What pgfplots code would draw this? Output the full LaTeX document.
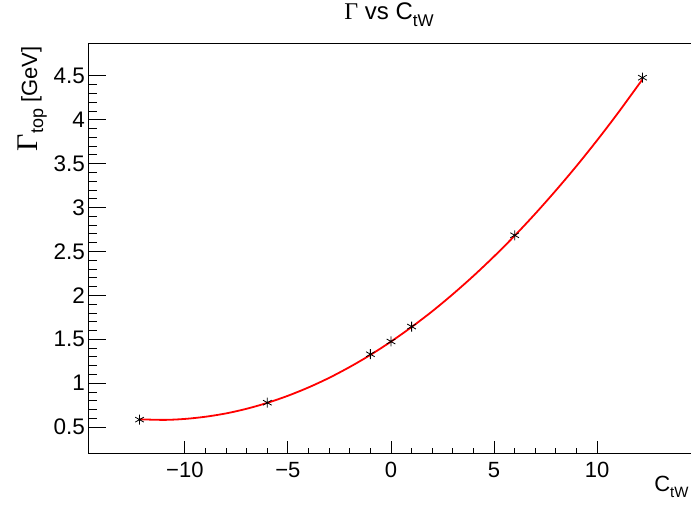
\documentclass[border=0pt]{standalone}
\usepackage{fontspec}
\setmainfont{Liberation Sans}
\newfontfamily\serifG{Liberation Serif}
\usepackage{pgfplots}
\pgfplotsset{compat=1.18}
\newcommand{\sub}[3]{\raisebox{-#1}{\fontsize{#2}{#2}\selectfont #3}}
\begin{document}
\begin{tikzpicture}
\useasboundingbox (0,0) rectangle (691pt,508pt);
\clip (0,0) rectangle (691pt,508pt);
\pgfplotsset{
  base/.style={
    scale only axis, width=606pt, height=410pt,
    at={(88pt,55pt)}, anchor=south west,
    xmin=-14.7, xmax=14.7, ymin=0.205, ymax=4.875,
    axis line style={black, line width=0.9pt},
    tick align=inside, xtick pos=bottom, ytick pos=left,
    every tick/.style={black, line width=0.9pt},
    every minor tick/.style={black, line width=0.9pt},
    /pgf/number format/assume math mode=true,
  }
}
\begin{axis}[base, name=ax,
  xtick={-10,-5,0,5,10},
  xticklabels={−10,−5,0,5,10},
  minor x tick num=4,
  ytick=\empty,
  major tick length=12pt, minor tick length=5pt,
  xticklabel style={font=\fontsize{22}{22}\selectfont, inner sep=0pt, anchor=north, yshift=-9pt},
]
\addplot[red, line width=1.8pt, smooth] coordinates {
(-12.2,0.589) (-11,0.582) (-10,0.593) (-9,0.618) (-8,0.656) (-7,0.709)
(-6,0.776) (-5,0.857) (-4,0.952) (-3,1.061) (-2,1.185) (-1,1.322)
(0,1.474) (1,1.640) (2,1.819) (3,2.014) (4,2.222) (5,2.444)
(6,2.680) (7,2.931) (8,3.196) (9,3.474) (10,3.767) (11,4.074) (12.2,4.461)
};
\addplot[only marks, mark=asterisk, mark size=5pt, mark options={black, line width=0.8pt}] coordinates {
(-12.2,0.585) (-6,0.778) (-1,1.330) (0,1.475) (1,1.645) (6,2.685) (12.2,4.480)
};
\end{axis}
\begin{axis}[base,
  xtick=\empty,
  ytick={0.5,1,1.5,2,2.5,3,3.5,4,4.5},
  yticklabels={0.5,1,1.5,2,2.5,3,3.5,4,4.5},
  minor y tick num=4,
  major tick length=18pt, minor tick length=9pt,
  yticklabel style={font=\fontsize{22.5}{22.5}\selectfont, inner sep=0pt, anchor=east, xshift=-3pt},
]
\end{axis}
\node[anchor=base] at ([xshift=-2pt, yshift=23pt]ax.north) {\fontsize{24}{24}\selectfont{\serifG Γ} vs C\sub{7pt}{17}{tW}};
\node[anchor=base east] at ([yshift=-39pt, xshift=-2pt]ax.south east) {\fontsize{22}{22}\selectfont C\sub{6pt}{15}{tW}};
\node[anchor=base east, rotate=90] at ([xshift=-51pt]ax.north west) {\fontsize{22}{22}\selectfont{\fontsize{30}{30}\selectfont\serifG Γ}\sub{6pt}{18}{top} [GeV]};
\end{tikzpicture}
\end{document}
